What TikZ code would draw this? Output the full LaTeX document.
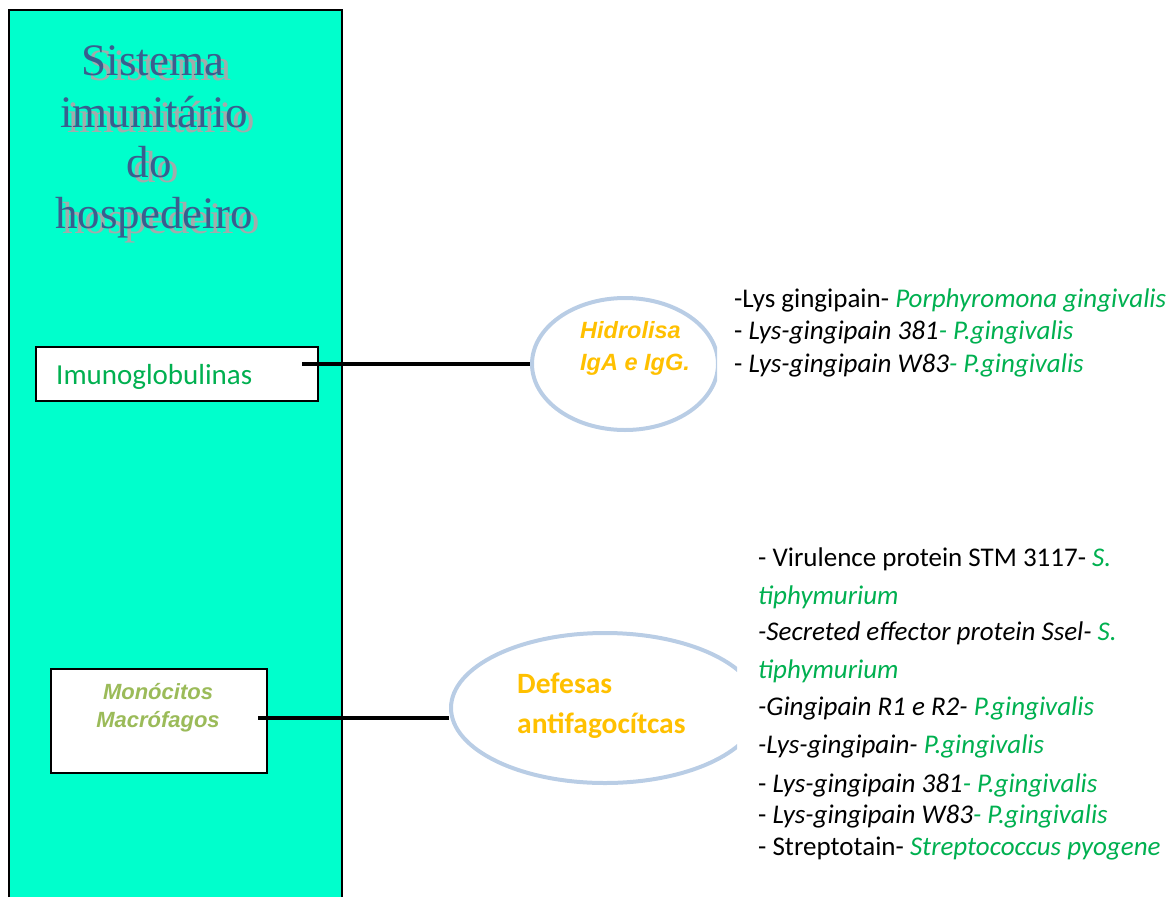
\documentclass[tikz,border=0pt]{standalone}
\usepackage{fontspec}
\setmainfont{Carlito}
\newfontfamily\titlefont{Liberation Serif}
\newfontfamily\arialfont{Liberation Sans}
\usetikzlibrary{shapes.geometric}

\definecolor{tealbg}{HTML}{00FFCC}
\definecolor{titleblue}{HTML}{3A5E8E}
\definecolor{titlegray}{HTML}{A2ABAB}
\definecolor{spgreen}{HTML}{00B050}
\definecolor{hlorange}{HTML}{FFC000}
\definecolor{olivetxt}{HTML}{9BBB59}
\definecolor{ovalblue}{HTML}{B9CDE5}

\newcommand{\gr}[1]{\textcolor{spgreen}{\itshape #1}}

\begin{document}
\begin{tikzpicture}[x=1pt,y=-1pt,
  box/.style={draw=black, line width=2pt, fill=white, inner sep=0pt},
  oval/.style={ellipse, draw=ovalblue, line width=4pt, inner sep=0pt},
  link/.style={line width=4.5pt},
  titletext/.style={anchor=base, inner sep=0pt, text=titleblue, font=\titlefont\fontsize{45}{51}\selectfont},
  titleshadow/.style={titletext, text=titlegray},
  lstA/.style={anchor=base west, inner sep=0pt, font=\fontsize{27}{32}\selectfont},
  lstB/.style={anchor=base west, inner sep=0pt, font=\fontsize{27}{32}\selectfont}]
\useasboundingbox (0,0) rectangle (1172,897);

% host immune system panel
\fill[tealbg] (9,10) rectangle (342,897);
\draw[line width=2pt] (9,897) |- (342,10) -- (342,897);
\foreach \i/\x/\y/\w in {1/153/75/Sistema, 2/154/127/imunitário, 3/149/177/do, 4/154/228/hospedeiro}{
  \node[titleshadow] (ts\i) at (\x+7,\y+5) {\w};
  \node[titletext] (t\i) at (\x,\y) {\w};
}

% boxes
\node[box, minimum width=282pt, minimum height=54pt, anchor=north west] (imuno) at (35,346) {};
\node[anchor=base west, inner sep=0pt, text=spgreen, font=\fontsize{29}{34}\selectfont] (imunotxt) at (56,384) {Imunoglobulinas};
\node[box, minimum width=216pt, minimum height=104pt, anchor=north west] (mono) at (50,668) {};
\node[anchor=base, align=center, inner sep=0pt, text=olivetxt, font=\arialfont\bfseries\itshape\fontsize{22}{28}\selectfont] (monotxt) at (158,727) {Monócitos\\Macrófagos};

% ovals, cut on the right
\begin{scope}
\clip (0,0) rectangle (717,500);
\node[oval, minimum width=186pt, minimum height=132pt] (hidro) at (625,364) {};
\end{scope}
\begin{scope}
\clip (0,500) rectangle (737,897);
\node[oval, minimum width=308pt, minimum height=150pt] (defesas) at (605,708) {};
\end{scope}
\node[anchor=base west, align=left, inner sep=0pt, text=hlorange, font=\arialfont\bfseries\itshape\fontsize{23.5}{32}\selectfont] (hidrotxt) at (580,370) {Hidrolisa\\IgA e IgG.};
\node[anchor=base west, align=left, inner sep=0pt, text=hlorange, font=\bfseries\fontsize{29.5}{40}\selectfont] (defesastxt) at (517,733) {Defesas\\antifagocítcas};

% connectors
\draw[link] ([xshift=-17pt,yshift=10pt]imuno.east) -- (hidro.west);
\draw[link] ([xshift=-10pt,yshift=3pt]mono.east) -- ([yshift=-10pt]defesas.west);

% proteases, first list
\node[lstA] (a1) at (734,307) {-Lys gingipain- \gr{Porphyromona gingivalis}};
\node[lstA] (a2) at (734,339) {- \textit{Lys-gingipain 381}\gr{- P.gingivalis}};
\node[lstA] (a3) at (734,372) {- \textit{Lys-gingipain W83}\gr{- P.gingivalis}};

% proteases, second list
\node[lstB] (b1) at (758,566) {- Virulence protein STM 3117- \gr{S.}};
\node[lstB] (b2) at (758,604) {\gr{tiphymurium}};
\node[lstB] (b3) at (758,640) {\textit{-Secreted effector protein Ssel-} \gr{S.}};
\node[lstB] (b4) at (758,678) {\gr{tiphymurium}};
\node[lstB] (b5) at (758,715) {\textit{-Gingipain R1 e R2-} \gr{P.gingivalis}};
\node[lstB] (b6) at (758,753) {\textit{-Lys-gingipain-} \gr{P.gingivalis}};
\node[lstB] (b7) at (758,792) {- \textit{Lys-gingipain 381}\gr{- P.gingivalis}};
\node[lstB] (b8) at (758,823) {- \textit{Lys-gingipain W83}\gr{- P.gingivalis}};
\node[lstB] (b9) at (758,855) {- Streptotain- \gr{Streptococcus pyogene}};
\end{tikzpicture}
\end{document}
